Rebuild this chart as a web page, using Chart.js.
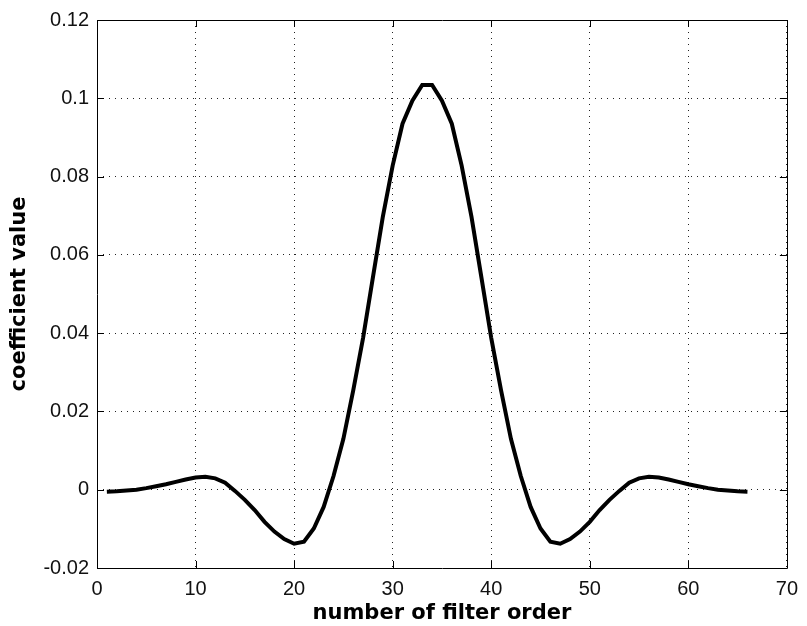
<!DOCTYPE html>
<html>
<head>
<meta charset="utf-8">
<script src="https://cdn.jsdelivr.net/npm/chart.js@4.4.1/dist/chart.umd.min.js"></script>
<style>
  html, body { margin: 0; padding: 0; background: #fff; }
  #wrap { width: 807px; height: 626px; }
</style>
</head>
<body>
<div id="wrap"><canvas id="coefChart" width="807" height="626"></canvas></div>
<script>
// filter order index (x) and coefficient
var orderIndex = [
  1, 2, 3, 4, 5, 6, 7, 8, 9, 10, 11, 12, 13, 14, 15, 16, 17, 18, 19, 20, 21, 22,
  23, 24, 25, 26, 27, 28, 29, 30, 31, 32, 33, 34, 35, 36, 37, 38, 39, 40, 41, 42, 43, 44,
  45, 46, 47, 48, 49, 50, 51, 52, 53, 54, 55, 56, 57, 58, 59, 60, 61, 62, 63, 64, 65, 66
];
var coefValues = [
  -0.0005, -0.0004, -0.0002, 0.0000, 0.0004, 0.0009, 0.0014, 0.0020, 0.0026, 0.0031, 0.0033,
  0.0029, 0.0018, -0.0003, -0.0026, -0.0052, -0.0082, -0.0107, -0.0126, -0.0138, -0.0133, -0.0099,
  -0.0044, 0.0035, 0.0130, 0.0254, 0.0388, 0.0543, 0.0697, 0.0828, 0.0935, 0.0994, 0.1034,
  0.1034, 0.0994, 0.0935, 0.0828, 0.0697, 0.0543, 0.0388, 0.0254, 0.0130, 0.0035, -0.0044,
  -0.0099, -0.0133, -0.0138, -0.0126, -0.0107, -0.0082, -0.0052, -0.0026, -0.0003, 0.0018, 0.0029,
  0.0033, 0.0031, 0.0026, 0.0020, 0.0014, 0.0009, 0.0004, 0.0000, -0.0002, -0.0004, -0.0005
];
var xTicks = [0, 10, 20, 30, 40, 50, 60, 70];
var yTicks = [-0.02, 0, 0.02, 0.04, 0.06, 0.08, 0.1, 0.12];

var points = [];
for (var i = 0; i < orderIndex.length; i++) {
  points.push({x: orderIndex[i], y: coefValues[i]});
}

var tickFont = {family: "'Liberation Sans', Arial, sans-serif", size: 20};
var titleFont = {family: "'DejaVu Sans', Verdana, sans-serif", size: 21, weight: 'bold'};

// matlab style box with inward ticks on all four sides
var boxPlugin = {
  id: 'matlabBox',
  afterDraw: function (chart) {
    var ctx = chart.ctx, a = chart.chartArea;
    var xs = chart.scales.x, ys = chart.scales.y;
    var tl = 7;
    ctx.save();
    ctx.strokeStyle = '#000';
    ctx.lineWidth = 1;
    ctx.beginPath();
    ctx.rect(Math.round(a.left) + 0.5, Math.round(a.top) + 0.5,
             Math.round(a.right - a.left), Math.round(a.bottom - a.top));
    xTicks.forEach(function (v) {
      var px = Math.round(xs.getPixelForValue(v)) + 0.5;
      ctx.moveTo(px, a.bottom); ctx.lineTo(px, a.bottom - tl);
      ctx.moveTo(px, a.top); ctx.lineTo(px, a.top + tl);
    });
    yTicks.forEach(function (v) {
      var py = Math.round(ys.getPixelForValue(v)) + 0.5;
      ctx.moveTo(a.left, py); ctx.lineTo(a.left + tl, py);
      ctx.moveTo(a.right, py); ctx.lineTo(a.right - tl, py);
    });
    ctx.stroke();
    ctx.restore();
  }
};

var chart = new Chart(document.getElementById('coefChart'), {
  type: 'line',
  data: {
    datasets: [{
      data: points,
      borderColor: '#000',
      borderWidth: 4,
      pointRadius: 0,
      tension: 0,
      fill: false
    }]
  },
  options: {
    responsive: false,
    animation: false,
    layout: {padding: {top: 19, right: 14, left: 0, bottom: 0}},
    plugins: {legend: {display: false}, tooltip: {enabled: false}},
    scales: {
      x: {
        type: 'linear',
        min: 0, max: 70,
        afterFit: function (s) { s.height = 58; },
        afterBuildTicks: function (s) { s.ticks = xTicks.map(function (v) { return {value: v}; }); },
        border: {display: false, dash: [1, 5]},
        grid: {color: '#222', drawTicks: false, lineWidth: 1},
        ticks: {color: '#111', font: tickFont, padding: 9, maxRotation: 0},
        title: {display: true, text: 'number of filter order', color: '#000', font: titleFont,
                padding: {top: 0, bottom: 0}}
      },
      y: {
        type: 'linear',
        min: -0.02, max: 0.12,
        afterFit: function (s) { s.width = 97; },
        afterBuildTicks: function (s) { s.ticks = yTicks.map(function (v) { return {value: v}; }); },
        border: {display: false, dash: [1, 5]},
        grid: {color: '#222', drawTicks: false, lineWidth: 1},
        ticks: {
          color: '#111', font: tickFont, padding: 8,
          callback: function (v) { return String(+Number(v).toFixed(2)); }
        },
        title: {display: true, text: 'coefficient value', color: '#000', font: titleFont,
                padding: {top: 7, bottom: 0}}
      }
    }
  },
  plugins: [boxPlugin]
});
</script>
</body>
</html>
